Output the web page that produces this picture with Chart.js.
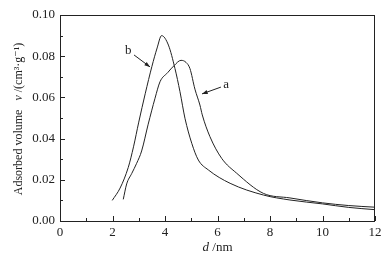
<!DOCTYPE html>
<html>
<head>
<meta charset="utf-8">
<script src="https://cdn.jsdelivr.net/npm/chart.js@4"></script>
<style>
  html, body { margin: 0; padding: 0; background: #fff; }
  #wrap { width: 389px; height: 261px; position: relative; }
</style>
</head>
<body>
<div id="wrap"><canvas id="poreChart" width="389" height="261"></canvas></div>
<script>
// pore size (nm) and adsorbed volume (cm3/g)
const dA = [2.41, 2.54, 2.73, 2.92, 3.11, 3.36, 3.62, 3.81, 4.1, 4.35, 4.61, 4.8, 4.95, 5.14, 5.33, 5.42, 5.71, 6.16, 6.73, 7.75, 8.76, 10, 11, 12];
const vA = [0.0105, 0.018, 0.023, 0.028, 0.034, 0.047, 0.0596, 0.0676, 0.072, 0.0755, 0.078, 0.077, 0.074, 0.064, 0.0563, 0.0515, 0.041, 0.0304, 0.0232, 0.0134, 0.0112, 0.0088, 0.0075, 0.0067];
const dB = [1.99, 2.29, 2.6, 2.8, 3.0, 3.25, 3.5, 3.7, 3.87, 4.13, 4.38, 4.57, 4.76, 5.02, 5.27, 5.65, 6.48, 7.75, 8.76, 10, 11, 12];
const vB = [0.0100, 0.0160, 0.0260, 0.0360, 0.0480, 0.0620, 0.0750, 0.0840, 0.090, 0.0854, 0.074, 0.0628, 0.0499, 0.0377, 0.0296, 0.0248, 0.0183, 0.0126, 0.0102, 0.0083, 0.0066, 0.0055];
const xTicks = [0, 2, 4, 6, 8, 10, 12];
const yTicks = [0, 0.02, 0.04, 0.06, 0.08, 0.10];
// curve labels: [text, text d, text v, arrow tail d, v, arrow head d, v]
const curveLabels = [
  ['b', 2.60, 0.0827, 2.82, 0.0806, 3.43, 0.0748],
  ['a', 6.33, 0.0660, 6.13, 0.0650, 5.41, 0.0617]
];

const serif = '"Liberation Serif", "DejaVu Serif", serif';
const toPts = (xs, ys) => xs.map((x, i) => ({ x: x, y: ys[i] }));

const decor = {
  id: 'decor',
  afterDraw(chart) {
    const c = chart.ctx;
    const area = chart.chartArea;
    const xs = chart.scales.x, ys = chart.scales.y;
    c.save();
    c.strokeStyle = '#222';
    c.lineWidth = 1;
    c.strokeRect(area.left + 0.5, area.top + 0.5, area.right - area.left - 1, area.bottom - area.top);
    // inward ticks, majors and minors
    c.beginPath();
    for (let v = 0; v <= 12; v += 1) {
      const px = Math.round(xs.getPixelForValue(v)) + 0.5;
      const len = v % 2 === 0 ? 5 : 3;
      c.moveTo(px, area.bottom); c.lineTo(px, area.bottom - len);
    }
    for (let k = 0; k <= 10; k++) {
      const py = Math.round(ys.getPixelForValue(k / 100)) + 0.5;
      const len = k % 2 === 0 ? 5 : 3;
      c.moveTo(area.left, py); c.lineTo(area.left + len, py);
    }
    c.stroke();

    // curve labels and arrows
    c.fillStyle = '#222';
    c.font = '13px ' + serif;
    c.textAlign = 'center';
    c.textBaseline = 'middle';
    curveLabels.forEach(l => {
      c.fillText(l[0], xs.getPixelForValue(l[1]), ys.getPixelForValue(l[2]));
      const x1 = xs.getPixelForValue(l[3]), y1 = ys.getPixelForValue(l[4]);
      const x2 = xs.getPixelForValue(l[5]), y2 = ys.getPixelForValue(l[6]);
      c.beginPath(); c.moveTo(x1, y1); c.lineTo(x2, y2); c.stroke();
      const ang = Math.atan2(y2 - y1, x2 - x1);
      c.beginPath();
      c.moveTo(x2, y2);
      c.lineTo(x2 - 6 * Math.cos(ang - 0.35), y2 - 6 * Math.sin(ang - 0.35));
      c.lineTo(x2 - 6 * Math.cos(ang + 0.35), y2 - 6 * Math.sin(ang + 0.35));
      c.closePath(); c.fill();
    });

    // axis titles (italic symbols)
    c.textAlign = 'left';
    c.textBaseline = 'alphabetic';
    const midX = (area.left + area.right) / 2;
    c.font = 'italic 13px ' + serif;
    const wD = c.measureText('d').width;
    c.font = '13px ' + serif;
    const wNm = c.measureText(' /nm').width;
    let sx = midX - (wD + wNm) / 2;
    c.font = 'italic 13px ' + serif;
    c.fillText('d', sx, 251);
    c.font = '13px ' + serif;
    c.fillText(' /nm', sx + wD, 251);

    c.translate(22, 119);
    c.rotate(-Math.PI / 2);
    const p1 = 'Adsorbed volume   ';
    const p3 = ' /(cm³·g⁻¹)';
    c.font = '12px ' + serif;
    const w1 = c.measureText(p1).width, w3 = c.measureText(p3).width;
    c.font = 'italic 12px ' + serif;
    const w2 = c.measureText('v').width;
    let ty = -(w1 + w2 + w3) / 2;
    c.font = '12px ' + serif;
    c.fillText(p1, ty, 0);
    c.font = 'italic 12px ' + serif;
    c.fillText('v', ty + w1, 0);
    c.font = '12px ' + serif;
    c.fillText(p3, ty + w1 + w2, 0);
    c.restore();
  }
};

new Chart(document.getElementById('poreChart'), {
  type: 'scatter',
  data: {
    datasets: [
      { label: 'a', data: toPts(dA, vA), showLine: true, borderColor: '#222', borderWidth: 1, pointRadius: 0, cubicInterpolationMode: 'monotone' },
      { label: 'b', data: toPts(dB, vB), showLine: true, borderColor: '#222', borderWidth: 1, pointRadius: 0, cubicInterpolationMode: 'monotone' }
    ]
  },
  options: {
    responsive: false,
    animation: false,
    layout: { padding: { left: 0, right: 14, top: 15, bottom: 0 } },
    plugins: { legend: { display: false }, tooltip: { enabled: false } },
    scales: {
      x: {
        type: 'linear', min: 0, max: 12,
        afterBuildTicks: s => { s.ticks = xTicks.map(v => ({ value: v })); },
        afterFit: s => { s.height = 40; },
        grid: { display: false, drawTicks: false },
        border: { display: false },
        ticks: { color: '#222', padding: 4, maxRotation: 0, font: { family: serif, size: 13 } }
      },
      y: {
        type: 'linear', min: 0, max: 0.10,
        afterBuildTicks: s => { s.ticks = yTicks.map(v => ({ value: v })); },
        afterFit: s => { s.width = 60; },
        grid: { display: false, drawTicks: false },
        border: { display: false },
        ticks: { color: '#222', padding: 5, font: { family: serif, size: 13 }, callback: v => v.toFixed(2) }
      }
    }
  },
  plugins: [decor]
});
</script>
</body>
</html>
